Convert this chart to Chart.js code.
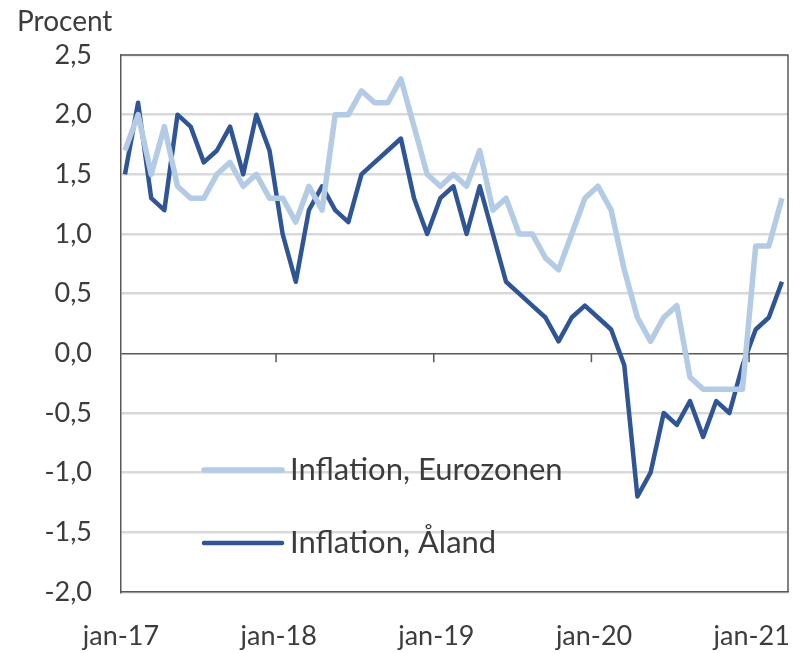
<!DOCTYPE html>
<html>
<head>
<meta charset="utf-8">
<script src="https://cdn.jsdelivr.net/npm/chart.js@4"></script>
<style>
html,body{margin:0;padding:0;background:#fff;}
#c{display:block;}
</style>
</head>
<body>
<canvas id="c" width="799" height="653"></canvas>
<script>
const months = [
 'jan-17','feb-17','mar-17','apr-17','maj-17','jun-17','jul-17','aug-17','sep-17','okt-17','nov-17','dec-17',
 'jan-18','feb-18','mar-18','apr-18','maj-18','jun-18','jul-18','aug-18','sep-18','okt-18','nov-18','dec-18',
 'jan-19','feb-19','mar-19','apr-19','maj-19','jun-19','jul-19','aug-19','sep-19','okt-19','nov-19','dec-19',
 'jan-20','feb-20','mar-20','apr-20','maj-20','jun-20','jul-20','aug-20','sep-20','okt-20','nov-20','dec-20',
 'jan-21','feb-21','mar-21'
];
const eurozone = [
 1.7,2.0,1.5,1.9,1.4,1.3,1.3,1.5,1.6,1.4,1.5,1.3,
 1.3,1.1,1.4,1.2,2.0,2.0,2.2,2.1,2.1,2.3,1.9,1.5,
 1.4,1.5,1.4,1.7,1.2,1.3,1.0,1.0,0.8,0.7,1.0,1.3,
 1.4,1.2,0.7,0.3,0.1,0.3,0.4,-0.2,-0.3,-0.3,-0.3,-0.3,
 0.9,0.9,1.3
];
const aland = [
 1.5,2.1,1.3,1.2,2.0,1.9,1.6,1.7,1.9,1.5,2.0,1.7,
 1.0,0.6,1.2,1.4,1.2,1.1,1.5,1.6,1.7,1.8,1.3,1.0,
 1.3,1.4,1.0,1.4,1.0,0.6,0.5,0.4,0.3,0.1,0.3,0.4,
 0.3,0.2,-0.1,-1.2,-1.0,-0.5,-0.6,-0.4,-0.7,-0.4,-0.5,-0.1,
 0.2,0.3,0.6
];
const seriesNames = ['Inflation, Eurozonen','Inflation, Åland'];
const xTickLabels = ['jan-17','jan-18','jan-19','jan-20','jan-21'];
const yAxisTitle = 'Procent';

const FONT = 'Lato, "Open Sans", sans-serif';
const TXT = '#3c3c3c';

const toPts = arr => arr.map((v,i)=>({x:i,y:v}));

const framePlugin = {
  id:'frame',
  afterDatasetsDraw(chart){
    const {ctx, chartArea:a, scales:{x,y}} = chart;
    ctx.save();
    ctx.strokeStyle = '#595959';
    ctx.lineWidth = 1.5;
    ctx.beginPath();
    ctx.moveTo(a.left, a.top); ctx.lineTo(a.right, a.top); ctx.lineTo(a.right, a.bottom);
    ctx.stroke();
    const y0 = y.getPixelForValue(0);
    ctx.beginPath();
    for (let k=1;k<xTickLabels.length;k++){
      const px = x.getPixelForValue(12*k-0.5);
      ctx.moveTo(px, y0); ctx.lineTo(px, y0+9);
    }
    ctx.stroke();
    ctx.restore();
  },
  afterDraw(chart){
    const {ctx} = chart;
    ctx.save();
    ctx.fillStyle = TXT;
    ctx.font = '28px ' + FONT;
    ctx.textAlign = 'left';
    ctx.textBaseline = 'middle';
    ctx.fillText(yAxisTitle, 17, 22);
    const ys = [470, 543];
    chart.data.datasets.forEach((ds,i)=>{
      ctx.strokeStyle = ds.borderColor;
      ctx.lineWidth = ds.borderWidth;
      ctx.lineCap = 'round';
      ctx.beginPath();
      ctx.moveTo(204, ys[i]); ctx.lineTo(282, ys[i]);
      ctx.stroke();
      ctx.fillStyle = TXT;
      ctx.font = '31px ' + FONT;
      ctx.fillText(ds.label, 290, ys[i]);
    });
    ctx.restore();
  }
};

new Chart(document.getElementById('c'), {
  type:'line',
  data:{
    datasets:[
      {label:seriesNames[0], data:toPts(eurozone), borderColor:'#b4cbe5', borderWidth:5.5, pointRadius:0, tension:0, borderJoinStyle:'round'},
      {label:seriesNames[1], data:toPts(aland), borderColor:'#2f5597', borderWidth:4.5, pointRadius:0, tension:0, borderJoinStyle:'round'}
    ]
  },
  options:{
    responsive:false,
    animation:false,
    layout:{padding:{top:55,right:11,left:0,bottom:0}},
    plugins:{legend:{display:false}, tooltip:{enabled:false}},
    scales:{
      x:{
        type:'linear',
        min:-0.3, max:50.46,
        afterBuildTicks(s){ s.ticks = xTickLabels.map((l,k)=>({value:12*k-0.3})); },
        afterFit(s){ s.height = 61; s.paddingLeft = 0; s.paddingRight = 0; },
        ticks:{
          autoSkip:false, maxRotation:0,
          color:TXT, font:{family:FONT, size:27},
          padding:28,
          callback:(v,i)=>xTickLabels[i]
        },
        grid:{display:false, drawTicks:false},
        border:{display:true, color:'#595959', width:1.5}
      },
      y:{
        min:-2, max:2.5,
        afterFit(s){ s.width = 121; s.paddingTop = 0; s.paddingBottom = 0; },
        ticks:{
          stepSize:0.5, color:TXT, font:{family:FONT, size:27}, padding:29,
          callback:v=>v.toFixed(1).replace('.',',')
        },
        grid:{
          drawTicks:false,
          color:c=> Math.abs(c.tick.value)<1e-9 ? '#595959' : '#d9d9d9',
          lineWidth:c=> Math.abs(c.tick.value)<1e-9 ? 1.5 : 2.5
        },
        border:{display:true, color:'#595959', width:1.5}
      }
    }
  },
  plugins:[framePlugin]
});
</script>
</body>
</html>
